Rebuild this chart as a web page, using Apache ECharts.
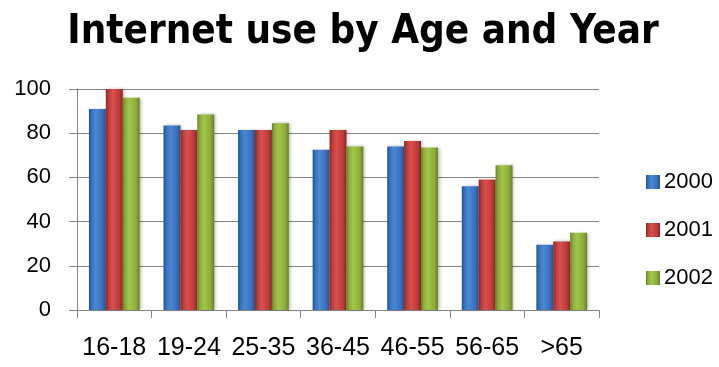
<!DOCTYPE html>
<html>
<head>
<meta charset="utf-8">
<script src="https://cdn.jsdelivr.net/npm/echarts@6/dist/echarts.min.js"></script>
<style>
  html, body { margin: 0; padding: 0; background: #fff; }
  #chart { width: 719px; height: 367px; }
</style>
</head>
<body>
<div id="chart"></div>
<script>
const ageGroups = ['16-18', '19-24', '25-35', '36-45', '46-55', '56-65', '>65'];
const years = ['2000', '2001', '2002'];
const use2000 = [91, 83.5, 81.5, 72.5, 74, 56, 29.5];
const use2001 = [100, 81.5, 81.5, 81.5, 76.5, 59, 31];
const use2002 = [96, 88.5, 84.5, 74, 73.5, 65.5, 35];
const yTicks = [0, 20, 40, 60, 80, 100];

const chart = echarts.init(document.getElementById('chart'));

// glassy look: dark edges, light middle
const glass = (edge, mid, light) => new echarts.graphic.LinearGradient(0, 0, 1, 0, [
  { offset: 0, color: edge },
  { offset: 0.15, color: mid },
  { offset: 0.4, color: light },
  { offset: 0.8, color: mid },
  { offset: 1, color: edge },
]);

const palette = [
  glass('#24508a', '#3570bb', '#4a88d6'),
  glass('#852624', '#bd3a37', '#d9504c'),
  glass('#627f25', '#8aac38', '#a2c64a'),
];
const seriesData = [use2000, use2001, use2002];

const font = "'Liberation Sans', Arial, sans-serif";

chart.setOption({
  animation: false,
  title: {
    text: 'Internet use by Age and Year',
    left: 358,
    textAlign: 'center',
    top: 8,
    textStyle: {
      fontFamily: "'DejaVu Sans Condensed', 'Liberation Sans Narrow', sans-serif",
      fontSize: 40,
      fontWeight: 'bold',
      color: '#000',
    },
  },
  legend: {
    orient: 'vertical',
    left: 641,
    top: 166,
    itemWidth: 14,
    itemHeight: 14,
    itemGap: 26,
    icon: 'rect',
    textStyle: { fontFamily: font, fontSize: 22, color: '#000', padding: [0, 0, 0, -1] },
    data: years,
  },
  grid: { left: 77, right: 120, top: 89, bottom: 57 },
  xAxis: {
    type: 'category',
    data: ageGroups,
    axisLine: { lineStyle: { color: '#868686' } },
    axisTick: { show: true, length: 8, lineStyle: { color: '#868686' } },
    axisLabel: { interval: 0, fontFamily: font, fontSize: 25, color: '#000', margin: 26 },
  },
  yAxis: {
    type: 'value',
    min: 0,
    max: 100,
    interval: 20,
    axisLine: { show: true, lineStyle: { color: '#868686' } },
    axisTick: { show: true, length: 8, lineStyle: { color: '#868686' } },
    axisLabel: {
      fontFamily: font, fontSize: 22, color: '#000', margin: 26,
      formatter: (v) => (yTicks.includes(v) ? String(v) : ''),
    },
    splitLine: { lineStyle: { color: '#868686', width: 1 } },
  },
  series: years.map((y, i) => ({
    name: y,
    type: 'bar',
    data: seriesData[i],
    barGap: '0%',
    barCategoryGap: '32%',
    itemStyle: {
      color: palette[i],
      shadowColor: 'rgba(0,0,0,0.25)',
      shadowBlur: 3,
      shadowOffsetX: 2,
    },
  })),
});
</script>
</body>
</html>
